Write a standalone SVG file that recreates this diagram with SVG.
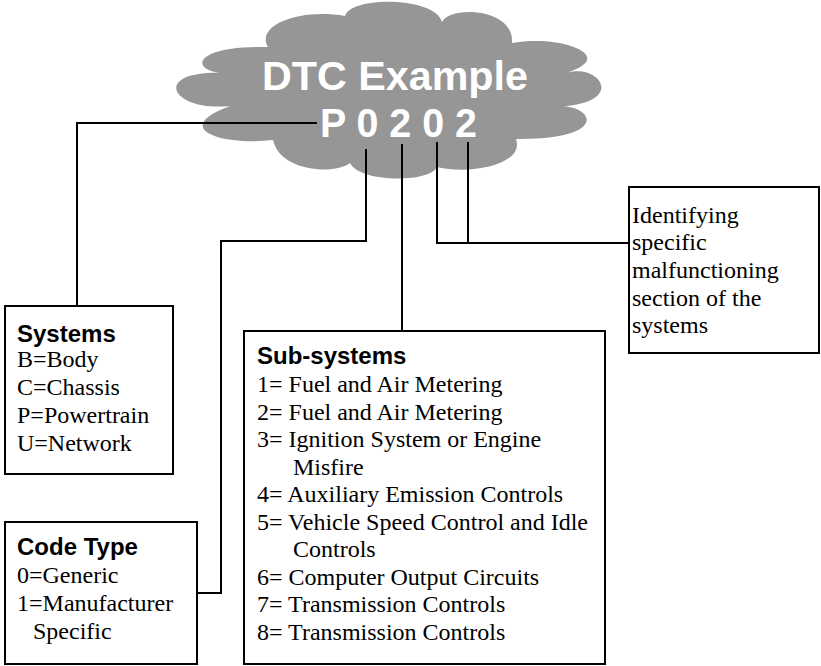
<svg xmlns="http://www.w3.org/2000/svg" width="821" height="666" viewBox="0 0 821 666">
<style>
.box{fill:#fff;stroke:#000;stroke-width:2}
.ttl{font-family:'Liberation Sans',sans-serif;font-weight:bold;font-size:24px;fill:#000}
.txt{font-family:'Liberation Serif','DejaVu Serif',serif;font-size:24px;fill:#000}
.big{font-family:'Liberation Sans',sans-serif;font-weight:bold;font-size:40px;fill:#fff}
.con{fill:none;stroke:#000;stroke-width:2}
</style>
<rect width="821" height="666" fill="#fff"/>
<g id="cloud">
<path fill="#969696" d="M268,47 C255,25 300,8 345,16 C350,-4 435,-4 442,22 C450,5 515,8 512,43 C560,34 620,56 566,73 C600,62 630,105 553,107 C590,100 618,140 516,139 C525,165 470,175 437,167 C430,183 360,183 350,163 C335,175 280,172 273,140 C220,146 170,128 230,106 C170,112 150,70 224,73 C190,72 190,45 268,47 Z"/>
<text class="big" x="262" y="90" textLength="266" lengthAdjust="spacingAndGlyphs">DTC Example</text>
<text class="big" x="320" y="137" textLength="157" lengthAdjust="spacingAndGlyphs">P 0 2 0 2</text>
</g>
<g id="connectors">
<polyline class="con" points="317,123 77,123 77,306"/>
<polyline class="con" points="366,149 366,241 221,241 221,593 197,593"/>
<line class="con" x1="402" y1="144" x2="402" y2="331"/>
<polyline class="con" points="437,142 437,243 629,243"/>
<line class="con" x1="468" y1="142" x2="468" y2="243"/>
</g>
<g id="systems">
<rect class="box" x="5" y="306" width="168" height="168"/>
<text class="ttl" x="17" y="342">Systems</text>
<text class="txt" x="17" y="367">B=Body</text>
<text class="txt" x="17" y="395">C=Chassis</text>
<text class="txt" x="17" y="423">P=Powertrain</text>
<text class="txt" x="17" y="451">U=Network</text>
</g>
<g id="codetype">
<rect class="box" x="5" y="522" width="192" height="142"/>
<text class="ttl" x="17" y="555">Code Type</text>
<text class="txt" x="17" y="583">0=Generic</text>
<text class="txt" x="17" y="611">1=Manufacturer</text>
<text class="txt" x="33" y="639">Specific</text>
</g>
<g id="subsystems">
<rect class="box" x="244" y="331" width="361" height="333"/>
<text class="ttl" x="257" y="364">Sub-systems</text>
<text class="txt" x="257" y="392">1= Fuel and Air Metering</text>
<text class="txt" x="257" y="420">2= Fuel and Air Metering</text>
<text class="txt" x="257" y="447">3= Ignition System or Engine</text>
<text class="txt" x="293" y="475">Misfire</text>
<text class="txt" x="257" y="502">4= Auxiliary Emission Controls</text>
<text class="txt" x="257" y="530">5= Vehicle Speed Control and Idle</text>
<text class="txt" x="293" y="557">Controls</text>
<text class="txt" x="257" y="585">6= Computer Output Circuits</text>
<text class="txt" x="257" y="612">7= Transmission Controls</text>
<text class="txt" x="257" y="640">8= Transmission Controls</text>
</g>
<g id="identifying">
<rect class="box" x="629" y="187" width="190" height="166"/>
<text class="txt" x="632" y="223">Identifying</text>
<text class="txt" x="632" y="250">specific</text>
<text class="txt" x="632" y="278">malfunctioning</text>
<text class="txt" x="632" y="306">section of the</text>
<text class="txt" x="632" y="333">systems</text>
</g>
</svg>
